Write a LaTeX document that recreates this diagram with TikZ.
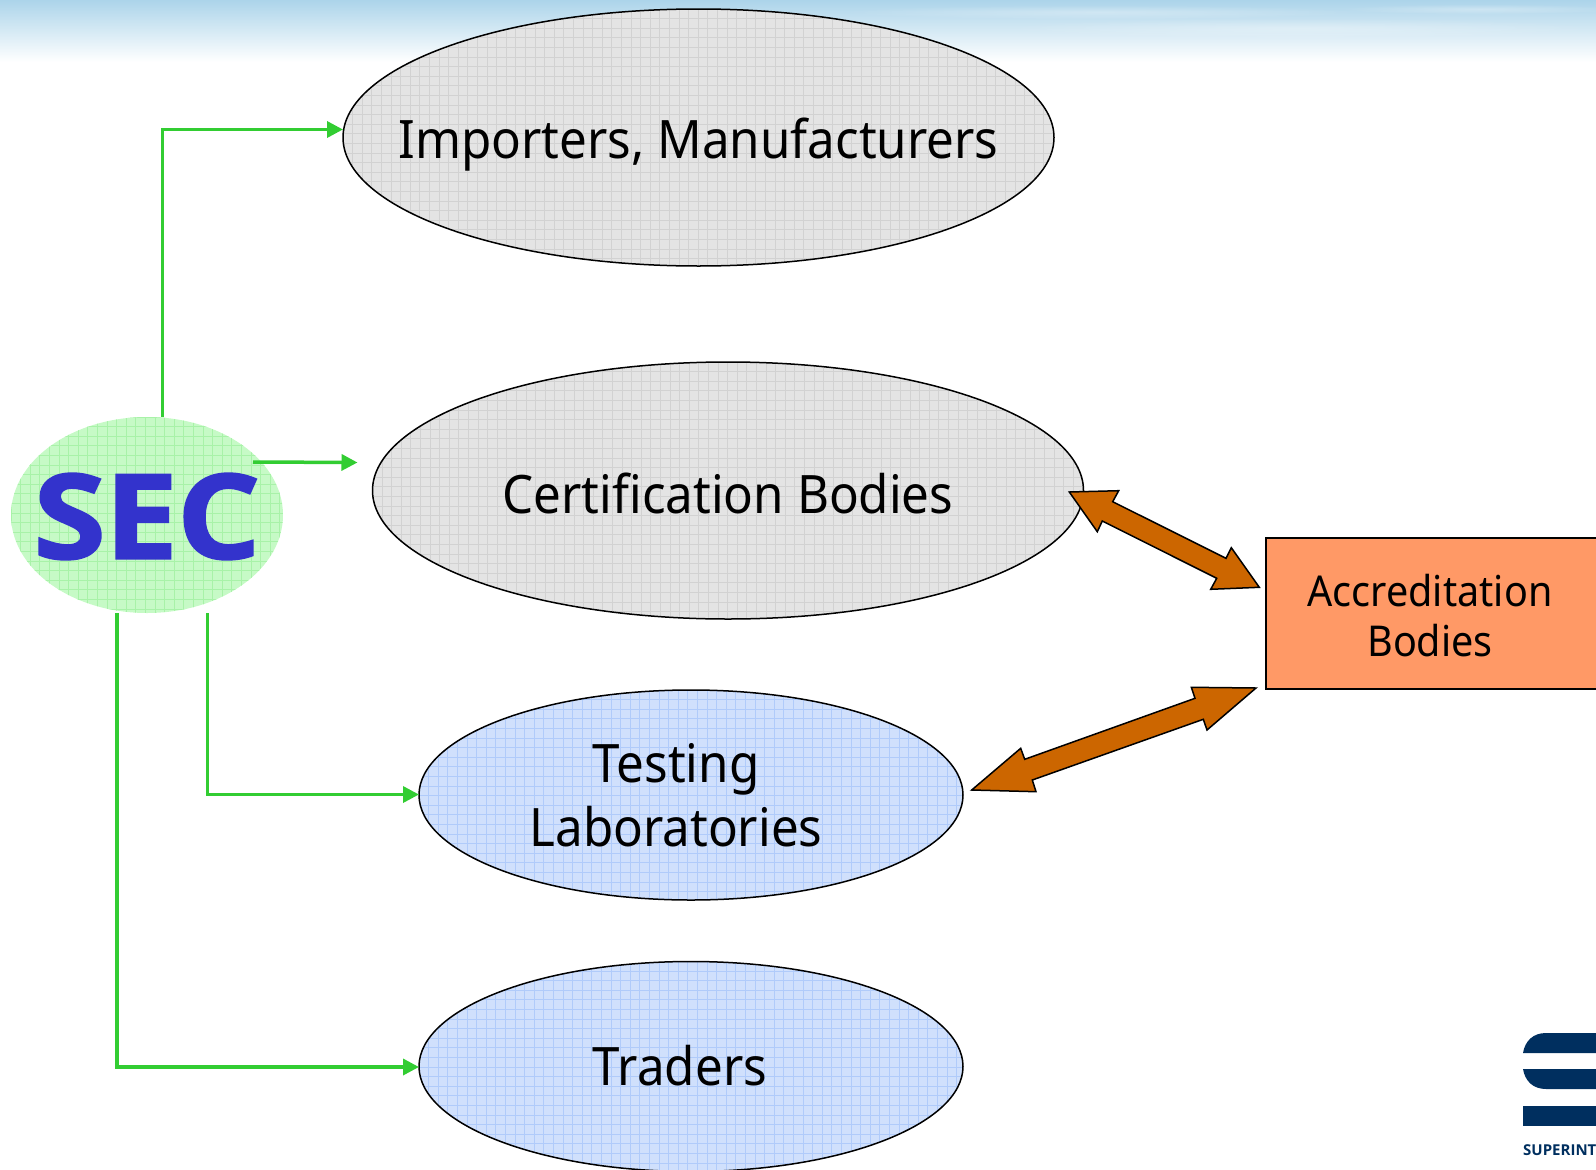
\documentclass[tikz,border=0pt]{standalone}
\usepackage{fontspec}
\setmainfont{Noto Sans}[FakeStretch=0.93]
\newfontfamily\heavyfont{Open Sans}
\newfontfamily\secfont{Open Sans}[BoldFeatures={FakeBold=1.5,FakeStretch=1.12,LetterSpace=-1.5}]
\usetikzlibrary{arrows.meta,calc,shapes.geometric,fadings}
\tikzfading[name=softspot,inner color=transparent!0,outer color=transparent!100]
\definecolor{secblue}{RGB}{51,51,204}
\definecolor{conngreen}{RGB}{50,205,50}
\definecolor{arrbrown}{RGB}{204,102,0}
\definecolor{accorange}{RGB}{255,153,102}
\definecolor{logoblue}{RGB}{0,47,95}
\definecolor{greyfill}{RGB}{228,228,228}
\definecolor{greygrid}{RGB}{210,210,210}
\definecolor{bluefill}{RGB}{208,224,252}
\definecolor{bluegrid}{RGB}{176,203,250}
\definecolor{greenfill}{RGB}{198,250,198}
\definecolor{greengrid}{RGB}{168,242,168}
\definecolor{skyA}{RGB}{172,212,234}
\definecolor{skyB}{RGB}{208,233,245}
\newcommand{\bigtext}{\fontsize{53}{64}\selectfont}
\newcommand{\midtext}{\fontsize{42.5}{50}\selectfont}
\newcommand{\dropby}[2]{\raisebox{-#1}[\height][\depth]{#2}}
\tikzset{
  x=1pt,y=-1pt,
  gridded/.style 2 args={fill=#1,path picture={
    \foreach \k in {0,...,75}{
      \draw[#2,line width=1pt] ($(path picture bounding box.north west)+(\k*9.6,0)$) -- ++(0,400);
      \draw[#2,line width=1pt] ($(path picture bounding box.north west)+(0,\k*9.6)$) -- ++(800,0);
    }}},
  oval/.style={ellipse,draw=black,line width=1.5pt,inner sep=0pt,outer sep=0pt,align=center,font=\bigtext},
  link/.style={draw=conngreen,line width=3.5pt,-{Triangle[length=16pt,width=16pt]}},
  dbl/.style={draw=black,line width=1.5pt,fill=arrbrown,line join=miter},
  logobar/.style={fill=logoblue,draw=none},
}
\begin{document}
\begin{tikzpicture}
\useasboundingbox (0,0) rectangle (1596,1170);
\clip (0,0) rectangle (1596,1170);
% sky band
\fill[top color=skyA,middle color=skyB,bottom color=white] (0,0) rectangle (1596,62);
\fill[white,opacity=.3,path fading=softspot] (1100,12) ellipse (260 and 7);
\fill[white,opacity=.3,path fading=softspot] (1480,9) ellipse (140 and 5);
\fill[white,opacity=.3,path fading=softspot] (1300,28) ellipse (300 and 10);
% nodes
\node[oval,gridded={greyfill}{greygrid},minimum width=711pt,minimum height=257pt] (imp) at (698.5,137.5) {\makebox[0pt]{\dropby{7pt}{Importers, Manufacturers}}};
\node[oval,gridded={greyfill}{greygrid},minimum width=711pt,minimum height=257pt] (cert) at (728,490.5) {\makebox[0pt]{\dropby{3pt}{Certification Bodies}}};
\node[oval,gridded={bluefill}{bluegrid},minimum width=544pt,minimum height=210pt] (lab) at (691,795) {Testing\hspace*{30pt}\\Laboratories\hspace*{30pt}};
\node[oval,gridded={bluefill}{bluegrid},minimum width=544pt,minimum height=210pt] (trad) at (691,1066.5) {\dropby{-1pt}{Traders}\hspace*{22pt}};
\node[ellipse,gridded={greenfill}{greengrid},draw=none,inner sep=0pt,outer sep=0pt,minimum width=272pt,minimum height=196pt,text=secblue,font=\fontsize{118}{118}\secfont\bfseries] (sec) at (147,515) {\makebox[0pt]{\dropby{1.5pt}{SEC}}};
\node[rectangle,draw=black,line width=1.5pt,fill=accorange,inner sep=0pt,outer sep=0pt,minimum width=334pt,minimum height=151pt,align=center,font=\midtext] (acc) at (1433,613.3) {\dropby{2pt}{Accreditation}\hspace*{6pt}\\\dropby{2pt}{Bodies}\hspace*{6pt}};
% green connectors
\draw[link] ($(sec.north)+(15.5,0)$) |- ($(imp.west)+(0,-8)$);
\draw[link] ($(sec.east)+(-30,-53)$) -- ($(cert.west)+(-15,-28)$);
\draw[link] ($(sec.south)+(60.5,0)$) |- ($(lab.west)+(0,-0.5)$);
\draw[link] ($(sec.south)+(-30,0)$) |- ($(trad.west)+(0,0.5)$);
% double arrows
\draw[dbl] (1069.3,492) -- (1118.7,490.7) -- (1112.7,501.7) -- (1226,558.3) -- (1231.3,547.7) -- (1259.3,587.3) -- (1210.7,589.3) -- (1216.7,578.3) -- (1102.3,521) -- (1097.3,531.7) -- cycle;
\draw[dbl] (971.7,790) -- (1020.7,748.3) -- (1024.7,759.3) -- (1195,698.3) -- (1191.3,687.3) -- (1256,688) -- (1207,730) -- (1203.3,719.3) -- (1032.3,780) -- (1036,791.7) -- cycle;
% logo
\fill[logobar] (1523,1053) .. controls (1525,1041) and (1533,1033) .. (1546,1033) -- (1600,1033) -- (1600,1053) -- cycle;
\fill[logobar] (1523,1069) .. controls (1525,1081) and (1533,1089) .. (1546,1089) -- (1600,1089) -- (1600,1069) -- cycle;
\fill[logobar] (1523,1105.5) rectangle (1600,1125.5);
\node[anchor=base west,inner sep=0pt,text=logoblue,font=\fontsize{15}{15}\heavyfont\bfseries] (logotext) at (1523,1155) {SUPERINT};
\end{tikzpicture}
\end{document}
